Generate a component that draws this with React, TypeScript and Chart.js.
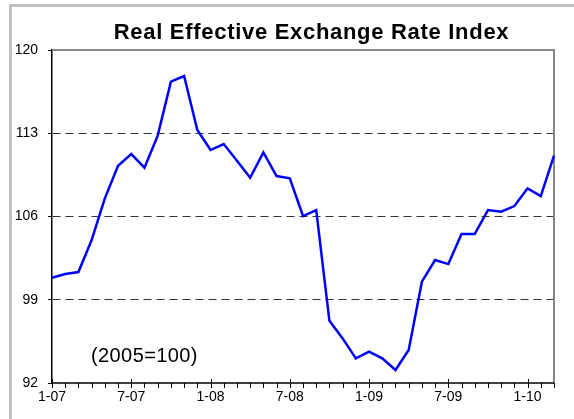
import React, { useEffect, useRef } from "react";
import { Chart, registerables } from "chart.js";

Chart.register(...registerables);

const months = [
  "1-07", "2-07", "3-07", "4-07", "5-07", "6-07", "7-07", "8-07", "9-07", "10-07", "11-07", "12-07",
  "1-08", "2-08", "3-08", "4-08", "5-08", "6-08", "7-08", "8-08", "9-08", "10-08", "11-08", "12-08",
  "1-09", "2-09", "3-09", "4-09", "5-09", "6-09", "7-09", "8-09", "9-09", "10-09", "11-09", "12-09",
  "1-10", "2-10", "3-10",
];

const reerValues = [
  100.85, 101.16, 101.33, 104.02, 107.53, 110.27, 111.25, 110.1, 112.8, 117.34, 117.81, 113.27,
  111.59, 112.09, 110.69, 109.26, 111.39, 109.4, 109.21, 106.04, 106.54, 97.23, 95.75, 94.07,
  94.63, 94.07, 93.09, 94.77, 100.52, 102.34, 102.0, 104.52, 104.52, 106.54, 106.4, 106.88,
  108.37, 107.72, 111.11,
];

const xTickLabels = ["1-07", "7-07", "1-08", "7-08", "1-09", "7-09", "1-10"];
const yMin = 92;
const yMax = 120;
const yStep = 7;

const chartTitle = "Real Effective Exchange Rate Index";
const baseNote = "(2005=100)";

const FONT = "'Liberation Sans', Arial, sans-serif";

const decorPlugin = {
  id: "decor",
  beforeDraw(chart: any) {
    const ctx = chart.ctx;
    ctx.save();
    ctx.fillStyle = "#ffffff";
    ctx.fillRect(0, 0, chart.width, chart.height);
    ctx.fillStyle = "#c0c0c0";
    ctx.fillRect(9, 4, 3, chart.height - 4);
    ctx.fillRect(9, 4, chart.width - 9, 3);
    ctx.restore();
  },
  beforeDatasetsDraw(chart: any) {
    const { ctx, chartArea: a } = chart;
    const x = chart.scales.x;
    ctx.save();
    // top & right frame
    ctx.strokeStyle = "#868686";
    ctx.lineWidth = 2;
    ctx.beginPath();
    ctx.moveTo(a.left, a.top);
    ctx.lineTo(a.right, a.top);
    ctx.lineTo(a.right, a.bottom);
    ctx.stroke();
    // bottom axis
    ctx.strokeStyle = "#000000";
    ctx.lineWidth = 1.5;
    ctx.beginPath();
    ctx.moveTo(a.left, a.bottom);
    ctx.lineTo(a.right, a.bottom);
    ctx.stroke();
    // tick marks
    ctx.lineWidth = 1;
    ctx.beginPath();
    months.forEach((m, i) => {
      const px = Math.round(x.getPixelForValue(i)) + 0.5;
      const major = xTickLabels.includes(m);
      ctx.moveTo(px, major ? a.bottom - 4 : a.bottom);
      ctx.lineTo(px, a.bottom + 5);
    });
    ctx.stroke();
    // tick labels
    ctx.fillStyle = "#000000";
    ctx.font = `14px ${FONT}`;
    ctx.textAlign = "center";
    ctx.textBaseline = "middle";
    months.forEach((m, i) => {
      if (xTickLabels.includes(m)) {
        ctx.fillText(m, x.getPixelForValue(i), a.bottom + 14.5);
      }
    });
    ctx.restore();
  },
  afterDraw(chart: any) {
    const ctx = chart.ctx;
    ctx.save();
    ctx.fillStyle = "#000000";
    ctx.textBaseline = "alphabetic";
    ctx.font = `bold 22px ${FONT}`;
    (ctx as any).letterSpacing = "0.7px";
    ctx.textAlign = "left";
    const tw = ctx.measureText(chartTitle).width;
    ctx.fillText(chartTitle, 311.5 - tw / 2, 38.5);
    ctx.font = `20px ${FONT}`;
    (ctx as any).letterSpacing = "0.4px";
    ctx.fillText(baseNote, 91, 362);
    ctx.restore();
  },
};

export default function App() {
  const canvasRef = useRef<HTMLCanvasElement | null>(null);

  useEffect(() => {
    const canvas = canvasRef.current;
    if (!canvas) return;
    const chart = new Chart(canvas, {
      type: "line",
      data: {
        labels: months,
        datasets: [
          {
            data: reerValues,
            borderColor: "#0000ff",
            borderWidth: 2.5,
            pointRadius: 0,
            tension: 0,
            fill: false,
          },
        ],
      },
      options: {
        animation: false,
        responsive: false,
        maintainAspectRatio: false,
        layout: { padding: { left: 0, top: 50, right: 20, bottom: 36 } },
        plugins: {
          legend: { display: false },
          tooltip: { enabled: false },
          title: { display: false },
        },
        scales: {
          x: {
            type: "category",
            display: false,
            offset: false,
          },
          y: {
            min: yMin,
            max: yMax,
            afterFit(scale: any) {
              scale.width = 52;
            },
            ticks: {
              stepSize: yStep,
              color: "#000000",
              padding: 10,
              font: { family: FONT, size: 14 },
            },
            grid: {
              color: (c: any) =>
                c.tick && (c.tick.value === yMin || c.tick.value === yMax)
                  ? "rgba(0,0,0,0)"
                  : "#333333",
              tickColor: "#000000",
              tickLength: 4,
              lineWidth: 1,
            },
            border: {
              display: true,
              color: "#000000",
              width: 1.5,
              dash: [8, 5],
            },
          },
        },
      },
      plugins: [decorPlugin],
    });
    return () => chart.destroy();
  }, []);

  return (
    <div style={{ position: "fixed", left: 0, top: 0, width: 574, height: 419 }}>
      <canvas ref={canvasRef} width={574} height={419} style={{ display: "block" }} />
    </div>
  );
}
